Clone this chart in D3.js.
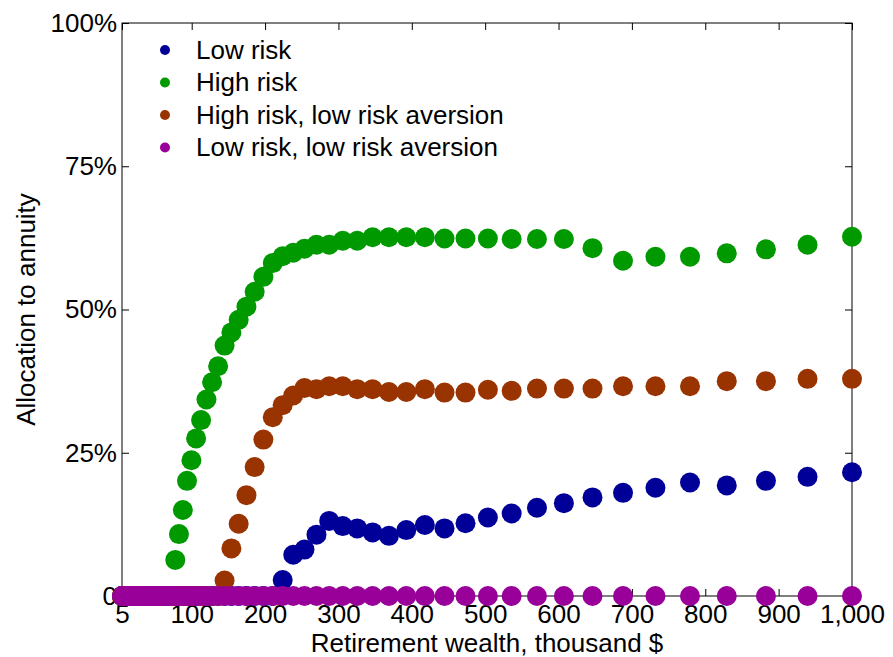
<!DOCTYPE html>
<html>
<head>
<meta charset="utf-8">
<script src="https://cdn.jsdelivr.net/npm/d3@7"></script>
<style>
  html, body { margin: 0; padding: 0; background: #fff; }
  svg { display: block; }
  text { font-family: "Liberation Sans", Arial, Helvetica, sans-serif; fill: #000; }
</style>
</head>
<body>
<svg id="chart" width="893" height="657"></svg>
<script>
// Retirement wealth grid (thousand $)
const wealth = [
  5.00, 5.32, 5.66, 6.03, 6.42, 6.83, 7.27, 7.74, 8.23, 8.76,
  9.33, 9.93, 10.56, 11.24, 11.97, 12.74, 13.55, 14.43, 15.35, 16.34,
  17.39, 18.51, 19.70, 20.97, 22.32, 23.75, 25.28, 26.91, 28.64, 30.48,
  32.44, 34.53, 36.75, 39.11, 41.62, 44.30, 47.15, 50.18, 53.41, 56.85,
  60.50, 64.39, 68.54, 72.94, 77.63, 82.63, 87.94, 93.60, 99.62, 106.0,
  112.8, 120.1, 127.8, 136.0, 144.8, 154.1, 164.0, 174.6, 185.8, 197.7,
  210.5, 224.0, 238.4, 253.7, 270.1, 287.4, 305.9, 325.6, 346.5, 368.8,
  392.5, 417.8, 444.6, 473.2, 503.7, 536.1, 570.6, 607.3, 646.3, 687.9,
  732.1, 779.2, 829.3, 882.7, 939.4, 1000
];

// Allocation to annuity, percent
const lowRisk = [
  0, 0, 0, 0, 0, 0, 0, 0, 0, 0,
  0, 0, 0, 0, 0, 0, 0, 0, 0, 0,
  0, 0, 0, 0, 0, 0, 0, 0, 0, 0,
  0, 0, 0, 0, 0, 0, 0, 0, 0, 0,
  0, 0, 0, 0, 0, 0, 0, 0, 0, 0,
  0, 0, 0, 0, 0, 0, 0, 0, 0, 0,
  0, 2.8, 7.2, 8.1, 10.7, 13.1, 12.2, 11.8, 11.1, 10.5,
  11.5, 12.4, 11.8, 12.7, 13.7, 14.4, 15.4, 16.2, 17.2, 18.0,
  18.9, 19.8, 19.3, 20.1, 20.8, 21.6
];
const highRisk = [
  0, 0, 0, 0, 0, 0, 0, 0, 0, 0,
  0, 0, 0, 0, 0, 0, 0, 0, 0, 0,
  0, 0, 0, 0, 0, 0, 0, 0, 0, 0,
  0, 0, 0, 0, 0, 0, 0, 0, 0, 0,
  0, 0, 0, 0, 6.3, 10.8, 15.0, 20.1, 23.7, 27.5,
  30.7, 34.3, 37.3, 40.1, 43.7, 46.0, 48.2, 50.5, 53.1, 55.7,
  58.1, 59.3, 59.9, 60.6, 61.3, 61.3, 62.0, 62.0, 62.6, 62.6,
  62.6, 62.6, 62.4, 62.4, 62.4, 62.3, 62.3, 62.3, 60.7, 58.5,
  59.2, 59.2, 59.8, 60.5, 61.3, 62.7
];
const highRiskLowAversion = [
  0, 0, 0, 0, 0, 0, 0, 0, 0, 0,
  0, 0, 0, 0, 0, 0, 0, 0, 0, 0,
  0, 0, 0, 0, 0, 0, 0, 0, 0, 0,
  0, 0, 0, 0, 0, 0, 0, 0, 0, 0,
  0, 0, 0, 0, 0, 0, 0, 0, 0, 0,
  0, 0, 0, 0, 2.7, 8.3, 12.6, 17.6, 22.5, 27.3,
  31.2, 33.3, 35.0, 36.3, 36.1, 36.6, 36.6, 36.1, 36.1, 35.6,
  35.6, 36.1, 35.5, 35.5, 36.0, 35.8, 36.2, 36.2, 36.2, 36.6,
  36.6, 36.6, 37.5, 37.5, 37.9, 37.9
];
const lowRiskLowAversion = [
  0, 0, 0, 0, 0, 0, 0, 0, 0, 0,
  0, 0, 0, 0, 0, 0, 0, 0, 0, 0,
  0, 0, 0, 0, 0, 0, 0, 0, 0, 0,
  0, 0, 0, 0, 0, 0, 0, 0, 0, 0,
  0, 0, 0, 0, 0, 0, 0, 0, 0, 0,
  0, 0, 0, 0, 0, 0, 0, 0, 0, 0,
  0, 0, 0, 0, 0, 0, 0, 0, 0, 0,
  0, 0, 0, 0, 0, 0, 0, 0, 0, 0,
  0, 0, 0, 0, 0, 0
];

const seriesNames = ["Low risk", "High risk", "High risk, low risk aversion", "Low risk, low risk aversion"];
const seriesColors = ["#000099", "#009900", "#993300", "#990099"];
const seriesValues = [lowRisk, highRisk, highRiskLowAversion, lowRiskLowAversion];

const xTicks = [5, 100, 200, 300, 400, 500, 600, 700, 800, 900, 1000];
const xTickLabels = ["5", "100", "200", "300", "400", "500", "600", "700", "800", "900", "1,000"];
const yTicks = [0, 25, 50, 75, 100];
const yTickLabels = ["0", "25%", "50%", "75%", "100%"];

const svg = d3.select("#chart");
const plotLeft = 122, plotRight = 852, plotTop = 23, plotBottom = 596;
const fontSize = 26;

const x = d3.scaleLinear().domain([5, 1000]).range([plotLeft, plotRight]);
const y = d3.scaleLinear().domain([0, 100]).range([plotBottom, plotTop]);

// frame
svg.append("rect")
  .attr("x", plotLeft).attr("y", plotTop)
  .attr("width", plotRight - plotLeft).attr("height", plotBottom - plotTop)
  .attr("fill", "none").attr("stroke", "#000").attr("stroke-width", 1);

const tickLen = 7;
function styleAxis(g) {
  g.select(".domain").remove();
  g.selectAll(".tick line").attr("stroke", "#000").attr("stroke-width", 1);
  g.selectAll("text")
    .style("font-family", '"Liberation Sans", Arial, Helvetica, sans-serif')
    .style("font-size", fontSize + "px")
    .attr("fill", "#000");
}

// axes: ticks point inward on all four sides
svg.append("g")
  .attr("transform", `translate(0,${plotBottom})`)
  .call(d3.axisBottom(x).tickValues(xTicks)
    .tickFormat((d, i) => xTickLabels[i])
    .tickSizeInner(-tickLen).tickSizeOuter(0).tickPadding(8.5))
  .call(styleAxis);

svg.append("g")
  .attr("transform", `translate(0,${plotTop})`)
  .call(d3.axisTop(x).tickValues(xTicks).tickFormat("")
    .tickSizeInner(-tickLen).tickSizeOuter(0))
  .call(styleAxis);

svg.append("g")
  .attr("transform", `translate(${plotLeft},0)`)
  .call(d3.axisLeft(y).tickValues(yTicks)
    .tickFormat((d, i) => yTickLabels[i])
    .tickSizeInner(-tickLen).tickSizeOuter(0).tickPadding(5))
  .call(styleAxis);

svg.append("g")
  .attr("transform", `translate(${plotRight},0)`)
  .call(d3.axisRight(y).tickValues(yTicks).tickFormat("")
    .tickSizeInner(-tickLen).tickSizeOuter(0))
  .call(styleAxis);

// axis titles
svg.append("text")
  .attr("x", (plotLeft + plotRight) / 2).attr("y", 652)
  .attr("text-anchor", "middle")
  .style("font-size", fontSize + "px")
  .text("Retirement wealth, thousand $");

svg.append("text")
  .attr("transform", `translate(35,${(plotTop + plotBottom) / 2}) rotate(-90)`)
  .attr("text-anchor", "middle")
  .style("font-size", fontSize + "px")
  .text("Allocation to annuity");

// markers, later series drawn on top
const markerR = 10;
seriesValues.forEach((vals, s) => {
  svg.append("g")
    .attr("fill", seriesColors[s])
    .selectAll("circle")
    .data(vals.map((v, i) => ({ w: wealth[i], v })))
    .join("circle")
    .attr("cx", d => x(d.w))
    .attr("cy", d => y(d.v))
    .attr("r", markerR);
});

// legend
const legend = svg.append("g");
seriesNames.forEach((name, s) => {
  const base = 58.5 + s * 32.5;
  legend.append("circle")
    .attr("cx", 165).attr("cy", base - 8.5).attr("r", 5)
    .attr("fill", seriesColors[s]);
  legend.append("text")
    .attr("x", 196).attr("y", base)
    .style("font-size", fontSize + "px")
    .text(name);
});
</script>
</body>
</html>
